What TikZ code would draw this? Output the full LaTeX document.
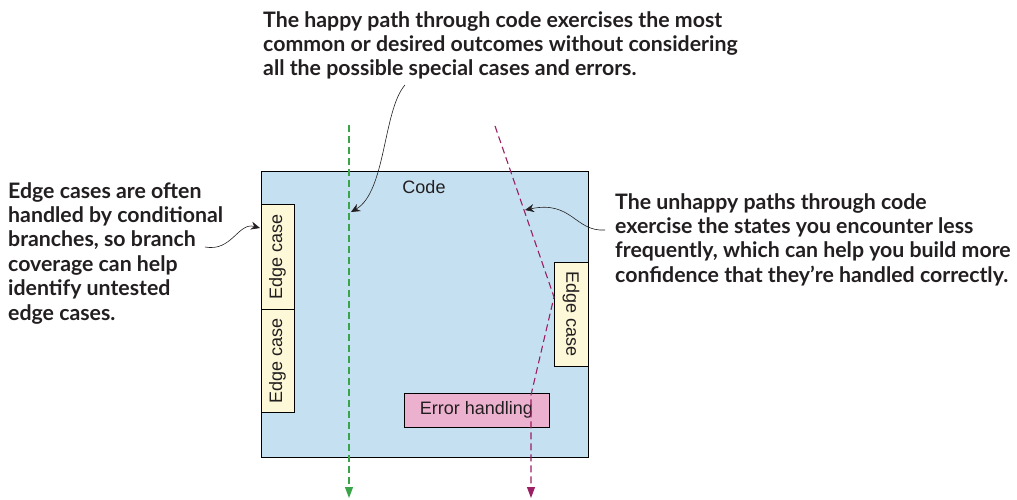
\documentclass[tikz,border=0pt]{standalone}
\usepackage{fontspec}
\usetikzlibrary{arrows.meta}

\newfontfamily\notefont{Lato}
\newfontfamily\boxfont{Liberation Sans}

\definecolor{codeblue}{HTML}{C5E1F1}
\definecolor{edgecream}{HTML}{FDF9D8}
\definecolor{errpink}{HTML}{EBB1CE}
\definecolor{happygreen}{HTML}{3AA548}
\definecolor{sadmagenta}{HTML}{9B1F62}
\definecolor{inkgray}{HTML}{231F20}

\tikzset{
	note/.style={anchor=north west, inner sep=0pt, align=left, text=inkgray,
		font=\notefont\bfseries\fontsize{21.3}{24.4}\selectfont},
	block/.style={draw=black, line width=1pt, inner sep=0pt, text=inkgray,
		font=\boxfont\fontsize{18}{20}\selectfont},
	pointer/.style={-{Stealth[length=9pt,width=8pt]}, line width=0.6pt, draw=inkgray},
	flow/.style={dash pattern=on 7pt off 4pt, line width=1.1pt, -{Triangle[length=11pt,width=8pt]}}
}

\begin{document}
\begin{tikzpicture}[x=1pt, y=-1pt]
	\useasboundingbox (0,0) rectangle (1017,500);

	\node[block, fill=codeblue, minimum width=327pt, minimum height=286pt] (code) at (424.5,314) {};
	\node[block, draw=none] (codetitle) at (424,187) {Code};

	\node[block, fill=edgecream, rotate=90, minimum width=105pt, minimum height=33pt] (edgeA) at (277.5,256.5) {Edge case};
	\node[block, fill=edgecream, rotate=90, minimum width=103pt, minimum height=33pt] (edgeB) at (277.5,360.5) {Edge case};
	\node[block, fill=edgecream, rotate=-90, minimum width=104pt, minimum height=34pt] (edgeC) at (571,314) {Edge case};

	\node[block, fill=errpink, minimum width=145pt, minimum height=34pt] (errbox) at (476.5,410) {Error handling};

	\node[note] (happynote) at (263,11) {The happy path through code exercises the most\\common or desired outcomes without considering\\all the possible special cases and errors.};
	\node[note] (edgenote) at (8,182) {Edge cases are often\\handled by conditional\\branches, so branch\\coverage can help\\identify untested\\edge cases.};
	\node[note] (unhappynote) at (615,193) {The unhappy paths through code\\exercise the states you encounter less\\frequently, which can help you build more\\confidence that they’re handled correctly.};

	% the two routes through the code
	\coordinate (happytop) at (349,125);
	\coordinate (happyend) at (349,498);
	\coordinate (sadtop) at (495,126);
	\coordinate (sadbend) at (554,297);
	\coordinate (sadturn) at (531,395);
	\coordinate (sadend) at (531,498);

	\draw[flow, happygreen] (happytop) -- (happyend);
	\draw[flow, sadmagenta] (sadtop) -- (sadbend) -- (sadturn) -- (sadend);

	% callouts
	\coordinate (happyfrom) at (405,85);
	\coordinate (happyhit) at (351,212);
	\coordinate (sadfrom) at (605,230);
	\coordinate (sadhit) at (525,210);
	\coordinate (edgefrom) at (205,247);
	\coordinate (edgehit) at (260,228);

	\draw[pointer] (happyfrom) .. controls (383,110) and (386,192) .. (happyhit);
	\draw[pointer] (sadfrom) .. controls (575,232) and (572,200) .. (sadhit);
	\draw[pointer] (edgefrom) .. controls (232,252) and (238,222) .. (edgehit);
\end{tikzpicture}
\end{document}
